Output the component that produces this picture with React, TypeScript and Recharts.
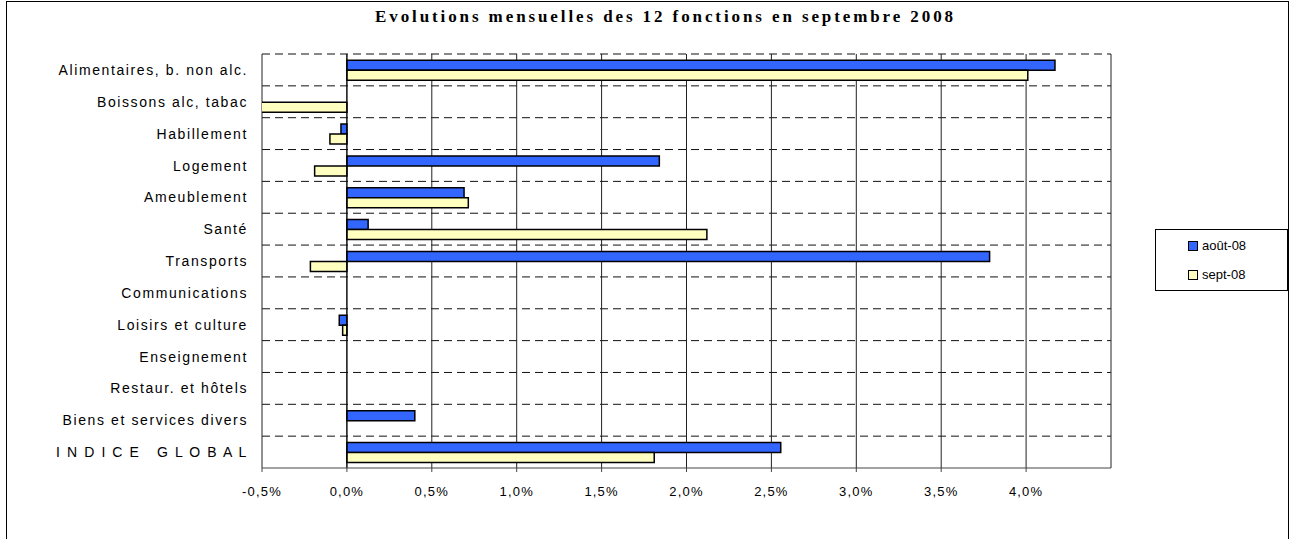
import React from "react";
import { BarChart, Bar, XAxis, YAxis, CartesianGrid, ReferenceLine } from "recharts";

const categories = [
  "Alimentaires, b. non alc.",
  "Boissons alc, tabac",
  "Habillement",
  "Logement",
  "Ameublement",
  "Santé",
  "Transports",
  "Communications",
  "Loisirs et culture",
  "Enseignement",
  "Restaur. et hôtels",
  "Biens et services divers",
  "I N D I C E   G L O B A L",
];

const seriesNames = ["août-08", "sept-08"];
const seriesColors = ["#3366FF", "#FFFFC0"];
const aout08 = [4.17, 0, -0.035, 1.84, 0.69, 0.125, 3.785, 0, -0.045, 0, 0, 0.4, 2.555];
const sept08 = [4.01, -0.52, -0.1, -0.19, 0.715, 2.12, -0.215, 0, -0.025, 0, 0, 0, 1.81];

const xTicks = [-0.5, 0, 0.5, 1, 1.5, 2, 2.5, 3, 3.5, 4];

const data = categories.map((name, i) => ({ name, aout: aout08[i], sept: sept08[i] }));

const SANS = "'Liberation Sans', Arial, sans-serif";
const SERIF = "'Liberation Serif', 'Times New Roman', serif";

const fmt = (v: number) => v.toFixed(1).replace(".", ",") + "%";

function CatTick(props: any) {
  const { x, y, payload } = props;
  return (
    <text x={x} y={y} dy="0.36em" textAnchor="end" fontFamily={SANS} fontSize={14} fill="#000" style={{ letterSpacing: "1.6px", whiteSpace: "pre" }}>
      {payload.value}
    </text>
  );
}

function ValTick(props: any) {
  const { x, y, payload } = props;
  return (
    <text x={x} y={y} dy="0.71em" textAnchor="middle" fontFamily={SANS} fontSize={13} fill="#000" style={{ letterSpacing: "1.2px" }}>
      {fmt(payload.value)}
    </text>
  );
}

export default function App() {
  return (
    <div style={{ position: "relative", width: 1291, height: 539, overflow: "hidden", background: "#fff" }}>
      <style>{"body{margin:0}"}</style>
      <div style={{ position: "absolute", left: 6, top: 1, width: 1283, height: 600, border: "1px solid #000", boxSizing: "border-box" }} />
      <div style={{ position: "absolute", left: 375, top: 9, whiteSpace: "nowrap", fontFamily: SERIF, fontWeight: "bold", fontSize: 17, lineHeight: "16px", letterSpacing: "2.9px" }}>
        Evolutions mensuelles des 12 fonctions en septembre 2008
      </div>
      <div style={{ position: "absolute", left: 0, top: 0 }}>
        <BarChart
          width={1291}
          height={539}
          data={data}
          layout="vertical"
          margin={{ top: 54, right: 180, left: 0, bottom: 41 }}
          barCategoryGap="20%"
          barGap={0}
        >
          <CartesianGrid
            stroke="#111"
            strokeDasharray="8 5"
            vertical={false}
            horizontalCoordinatesGenerator={({ offset }: any) =>
              categories.map((_, i) => offset.top + (i * offset.height) / categories.length)
            }
          />
          <CartesianGrid stroke="#222" horizontal={false} />
          <XAxis
            type="number"
            domain={[-0.5, 4.5]}
            ticks={xTicks}
            allowDataOverflow
            stroke="#444"
            tickSize={4}
            tickMargin={15}
            height={30}
            tick={<ValTick />}
            interval={0}
          />
          <YAxis
            type="category"
            dataKey="name"
            width={262}
            axisLine={false}
            tickLine={false}
            tickMargin={8}
            interval={0}
            tick={<CatTick />}
          />
          <ReferenceLine x={0} stroke="#000" strokeWidth={1} />
          <Bar dataKey="aout" name={seriesNames[0]} fill={seriesColors[0]} stroke="#000" strokeWidth={1.5} isAnimationActive={false} />
          <Bar dataKey="sept" name={seriesNames[1]} fill={seriesColors[1]} stroke="#000" strokeWidth={1.5} isAnimationActive={false} />
        </BarChart>
      </div>
      <div style={{ position: "absolute", left: 1155, top: 229, width: 133, height: 62, border: "1px solid #000", boxSizing: "border-box", background: "#fff", paddingTop: 1 }}>
        {seriesNames.map((n, i) => (
          <div key={n} style={{ display: "flex", alignItems: "center", marginLeft: 32, height: 29, fontFamily: SANS, fontSize: 13 }}>
            <span style={{ display: "inline-block", width: 8, height: 8, background: seriesColors[i], border: "1px solid #000", marginRight: 4 }} />
            <span>{n}</span>
          </div>
        ))}
      </div>
    </div>
  );
}
